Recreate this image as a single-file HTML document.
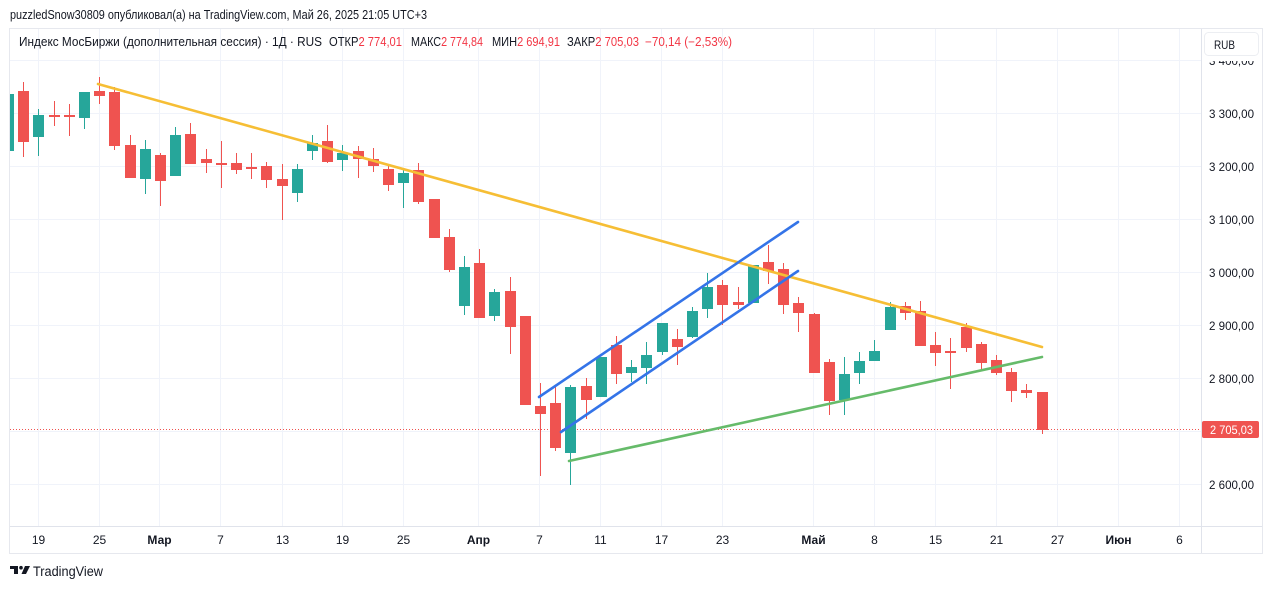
<!DOCTYPE html>
<html><head><meta charset="utf-8"><style>
html,body{margin:0;padding:0;background:#fff;}
svg{display:block;font-family:"Liberation Sans","DejaVu Sans",sans-serif;}
</style></head><body>
<svg width="1273" height="589" viewBox="0 0 1273 589" xmlns="http://www.w3.org/2000/svg">
<rect x="0" y="0" width="1273" height="589" fill="#fff"/>
<text x="10" y="19" font-size="13" fill="#131722" textLength="417" lengthAdjust="spacingAndGlyphs">puzzledSnow30809 опубликовал(а) на TradingView.com, Май 26, 2025 21:05 UTC+3</text>
<rect x="9.5" y="28.5" width="1253" height="525" fill="#fff" stroke="#e6e8ee"/>
<defs><clipPath id="pane"><rect x="10" y="29" width="1191" height="497"/></clipPath></defs>
<g stroke="#f0f3fa" stroke-width="1">
<line x1="10" x2="1201" y1="60.5" y2="60.5"/><line x1="10" x2="1201" y1="113.5" y2="113.5"/><line x1="10" x2="1201" y1="166.5" y2="166.5"/><line x1="10" x2="1201" y1="219.5" y2="219.5"/><line x1="10" x2="1201" y1="272.5" y2="272.5"/><line x1="10" x2="1201" y1="325.5" y2="325.5"/><line x1="10" x2="1201" y1="378.5" y2="378.5"/><line x1="10" x2="1201" y1="431.5" y2="431.5"/><line x1="10" x2="1201" y1="484.5" y2="484.5"/>
<line y1="29" y2="526" x1="38.5" x2="38.5"/><line y1="29" y2="526" x1="99.5" x2="99.5"/><line y1="29" y2="526" x1="159.5" x2="159.5"/><line y1="29" y2="526" x1="220.5" x2="220.5"/><line y1="29" y2="526" x1="282.5" x2="282.5"/><line y1="29" y2="526" x1="342.5" x2="342.5"/><line y1="29" y2="526" x1="403.5" x2="403.5"/><line y1="29" y2="526" x1="478.5" x2="478.5"/><line y1="29" y2="526" x1="539.5" x2="539.5"/><line y1="29" y2="526" x1="600.5" x2="600.5"/><line y1="29" y2="526" x1="661.5" x2="661.5"/><line y1="29" y2="526" x1="722.5" x2="722.5"/><line y1="29" y2="526" x1="813.5" x2="813.5"/><line y1="29" y2="526" x1="874.5" x2="874.5"/><line y1="29" y2="526" x1="935.5" x2="935.5"/><line y1="29" y2="526" x1="996.5" x2="996.5"/><line y1="29" y2="526" x1="1057.5" x2="1057.5"/><line y1="29" y2="526" x1="1118.5" x2="1118.5"/><line y1="29" y2="526" x1="1179.5" x2="1179.5"/>
</g>
<g clip-path="url(#pane)">
<line x1="10" x2="1201" y1="429.5" y2="429.5" stroke="#ef5350" stroke-width="1" stroke-dasharray="1 2"/>
<g fill="#ef5350">
<rect x="23" y="82" width="1" height="75"/><rect x="18" y="91" width="11" height="51"/>
<rect x="54" y="101" width="1" height="25"/><rect x="49" y="115" width="11" height="2"/>
<rect x="69" y="104" width="1" height="32"/><rect x="64" y="115" width="11" height="2"/>
<rect x="99" y="77" width="1" height="27"/><rect x="94" y="91" width="11" height="5"/>
<rect x="114" y="87" width="1" height="63"/><rect x="109" y="92" width="11" height="54"/>
<rect x="130" y="135" width="1" height="43"/><rect x="125" y="145" width="11" height="33"/>
<rect x="160" y="153" width="1" height="53"/><rect x="155" y="155" width="11" height="26"/>
<rect x="190" y="123" width="1" height="41"/><rect x="185" y="134" width="11" height="30"/>
<rect x="206" y="149" width="1" height="24"/><rect x="201" y="159" width="11" height="4"/>
<rect x="221" y="141" width="1" height="47"/><rect x="216" y="163" width="11" height="2"/>
<rect x="236" y="153" width="1" height="21"/><rect x="231" y="163" width="11" height="7"/>
<rect x="251" y="153" width="1" height="26"/><rect x="246" y="167" width="11" height="2"/>
<rect x="266" y="162" width="1" height="26"/><rect x="261" y="166" width="11" height="14"/>
<rect x="282" y="164" width="1" height="56"/><rect x="277" y="179" width="11" height="7"/>
<rect x="327" y="125" width="1" height="38"/><rect x="322" y="141" width="11" height="21"/>
<rect x="358" y="146" width="1" height="32"/><rect x="353" y="151" width="11" height="8"/>
<rect x="373" y="148" width="1" height="24"/><rect x="368" y="159" width="11" height="7"/>
<rect x="388" y="164" width="1" height="27"/><rect x="383" y="169" width="11" height="16"/>
<rect x="418" y="163" width="1" height="41"/><rect x="413" y="170" width="11" height="32"/>
<rect x="434" y="199" width="1" height="39"/><rect x="429" y="199" width="11" height="39"/>
<rect x="449" y="229" width="1" height="43"/><rect x="444" y="237" width="11" height="33"/>
<rect x="479" y="249" width="1" height="69"/><rect x="474" y="263" width="11" height="55"/>
<rect x="510" y="277" width="1" height="77"/><rect x="505" y="291" width="11" height="36"/>
<rect x="525" y="316" width="1" height="89"/><rect x="520" y="316" width="11" height="89"/>
<rect x="540" y="383" width="1" height="93"/><rect x="535" y="406" width="11" height="8"/>
<rect x="555" y="385" width="1" height="66"/><rect x="550" y="403" width="11" height="45"/>
<rect x="586" y="378" width="1" height="41"/><rect x="581" y="386" width="11" height="14"/>
<rect x="616" y="336" width="1" height="48"/><rect x="611" y="345" width="11" height="29"/>
<rect x="677" y="329" width="1" height="36"/><rect x="672" y="339" width="11" height="8"/>
<rect x="722" y="280" width="1" height="45"/><rect x="717" y="285" width="11" height="20"/>
<rect x="738" y="287" width="1" height="22"/><rect x="733" y="302" width="11" height="3"/>
<rect x="768" y="245" width="1" height="39"/><rect x="763" y="262" width="11" height="9"/>
<rect x="783" y="263" width="1" height="51"/><rect x="778" y="269" width="11" height="36"/>
<rect x="798" y="297" width="1" height="35"/><rect x="793" y="303" width="11" height="10"/>
<rect x="814" y="313" width="1" height="60"/><rect x="809" y="314" width="11" height="59"/>
<rect x="829" y="359" width="1" height="56"/><rect x="824" y="362" width="11" height="39"/>
<rect x="905" y="302" width="1" height="18"/><rect x="900" y="306" width="11" height="7"/>
<rect x="920" y="301" width="1" height="45"/><rect x="915" y="311" width="11" height="35"/>
<rect x="935" y="332" width="1" height="34"/><rect x="930" y="345" width="11" height="8"/>
<rect x="950" y="338" width="1" height="51"/><rect x="945" y="351" width="11" height="2"/>
<rect x="966" y="323" width="1" height="29"/><rect x="961" y="327" width="11" height="21"/>
<rect x="981" y="342" width="1" height="28"/><rect x="976" y="344" width="11" height="19"/>
<rect x="996" y="355" width="1" height="20"/><rect x="991" y="360" width="11" height="13"/>
<rect x="1011" y="368" width="1" height="34"/><rect x="1006" y="372" width="11" height="19"/>
<rect x="1026" y="384" width="1" height="14"/><rect x="1021" y="390" width="11" height="3"/>
<rect x="1042" y="392" width="1" height="42"/><rect x="1037" y="392" width="11" height="38"/>
</g>
<g fill="#26a69a">
<rect x="8" y="94" width="1" height="57"/><rect x="3" y="94" width="11" height="57"/>
<rect x="38" y="109" width="1" height="47"/><rect x="33" y="115" width="11" height="22"/>
<rect x="84" y="92" width="1" height="37"/><rect x="79" y="92" width="11" height="26"/>
<rect x="145" y="140" width="1" height="54"/><rect x="140" y="149" width="11" height="30"/>
<rect x="175" y="127" width="1" height="49"/><rect x="170" y="135" width="11" height="41"/>
<rect x="297" y="164" width="1" height="38"/><rect x="292" y="169" width="11" height="24"/>
<rect x="312" y="135" width="1" height="25"/><rect x="307" y="143" width="11" height="8"/>
<rect x="342" y="145" width="1" height="26"/><rect x="337" y="153" width="11" height="7"/>
<rect x="403" y="170" width="1" height="38"/><rect x="398" y="173" width="11" height="10"/>
<rect x="464" y="256" width="1" height="59"/><rect x="459" y="267" width="11" height="39"/>
<rect x="494" y="289" width="1" height="32"/><rect x="489" y="292" width="11" height="24"/>
<rect x="570" y="385" width="1" height="100"/><rect x="565" y="387" width="11" height="66"/>
<rect x="601" y="357" width="1" height="40"/><rect x="596" y="357" width="11" height="40"/>
<rect x="631" y="360" width="1" height="22"/><rect x="626" y="367" width="11" height="6"/>
<rect x="646" y="342" width="1" height="42"/><rect x="641" y="355" width="11" height="13"/>
<rect x="662" y="323" width="1" height="32"/><rect x="657" y="323" width="11" height="29"/>
<rect x="692" y="307" width="1" height="31"/><rect x="687" y="311" width="11" height="26"/>
<rect x="707" y="273" width="1" height="45"/><rect x="702" y="287" width="11" height="22"/>
<rect x="753" y="265" width="1" height="38"/><rect x="748" y="265" width="11" height="38"/>
<rect x="844" y="357" width="1" height="58"/><rect x="839" y="374" width="11" height="26"/>
<rect x="859" y="352" width="1" height="32"/><rect x="854" y="361" width="11" height="12"/>
<rect x="874" y="340" width="1" height="21"/><rect x="869" y="351" width="11" height="10"/>
<rect x="890" y="302" width="1" height="28"/><rect x="885" y="307" width="11" height="23"/>
</g>
<g stroke-linecap="round" fill="none">
<line x1="98" y1="84" x2="1042" y2="347" stroke="#f6be35" stroke-width="2.6"/>
<line x1="539" y1="397" x2="798" y2="222" stroke="#3474e8" stroke-width="2.6"/>
<line x1="561" y1="432" x2="798" y2="271" stroke="#3474e8" stroke-width="2.6"/>
<line x1="569" y1="461" x2="1042" y2="357" stroke="#66bb6a" stroke-width="2.6"/>
</g>
</g>
<line x1="10" x2="1262" y1="526.5" y2="526.5" stroke="#e0e3eb"/>
<line x1="1201.5" x2="1201.5" y1="29" y2="553" stroke="#e0e3eb"/>
<g font-size="12" fill="#131722">
<text x="1209" y="65" textLength="45" lengthAdjust="spacingAndGlyphs">3 400,00</text>
<text x="1209" y="118" textLength="45" lengthAdjust="spacingAndGlyphs">3 300,00</text>
<text x="1209" y="171" textLength="45" lengthAdjust="spacingAndGlyphs">3 200,00</text>
<text x="1209" y="224" textLength="45" lengthAdjust="spacingAndGlyphs">3 100,00</text>
<text x="1209" y="277" textLength="45" lengthAdjust="spacingAndGlyphs">3 000,00</text>
<text x="1209" y="330" textLength="45" lengthAdjust="spacingAndGlyphs">2 900,00</text>
<text x="1209" y="383" textLength="45" lengthAdjust="spacingAndGlyphs">2 800,00</text>
<text x="1209" y="489" textLength="45" lengthAdjust="spacingAndGlyphs">2 600,00</text>
</g>
<rect x="1202" y="29" width="60" height="32" fill="#fff"/>
<rect x="1204.5" y="32.5" width="54" height="23" rx="4" fill="#fff" stroke="#eceef2"/>
<text x="1214" y="49" font-size="12" fill="#131722" textLength="21" lengthAdjust="spacingAndGlyphs">RUB</text>
<rect x="1202" y="421" width="57" height="17" rx="2" fill="#ef5350"/>
<text x="1210" y="434" font-size="12" fill="#fff" textLength="43" lengthAdjust="spacingAndGlyphs">2 705,03</text>
<g font-size="12" fill="#131722" text-anchor="middle">
<text x="38.5" y="544">19</text><text x="99.5" y="544">25</text><text x="159.5" y="544" font-weight="bold">Мар</text><text x="220.5" y="544">7</text><text x="282.5" y="544">13</text><text x="342.5" y="544">19</text><text x="403.5" y="544">25</text><text x="478.5" y="544" font-weight="bold">Апр</text><text x="539.5" y="544">7</text><text x="600.5" y="544">11</text><text x="661.5" y="544">17</text><text x="722.5" y="544">23</text><text x="813.5" y="544" font-weight="bold">Май</text><text x="874.5" y="544">8</text><text x="935.5" y="544">15</text><text x="996.5" y="544">21</text><text x="1057.5" y="544">27</text><text x="1118.5" y="544" font-weight="bold">Июн</text><text x="1179.5" y="544">6</text>
</g>
<g font-size="12.5" fill="#131722">
<text x="19" y="46" textLength="303" lengthAdjust="spacingAndGlyphs">Индекс МосБиржи (дополнительная сессия) · 1Д · RUS</text>
<text x="329" y="46" textLength="73" lengthAdjust="spacingAndGlyphs">ОТКР<tspan fill="#f23645">2 774,01</tspan></text>
<text x="411" y="46" textLength="72" lengthAdjust="spacingAndGlyphs">МАКС<tspan fill="#f23645">2 774,84</tspan></text>
<text x="492" y="46" textLength="68" lengthAdjust="spacingAndGlyphs">МИН<tspan fill="#f23645">2 694,91</tspan></text>
<text x="567" y="46" textLength="72" lengthAdjust="spacingAndGlyphs">ЗАКР<tspan fill="#f23645">2 705,03</tspan></text>
<text x="645" y="46" textLength="87" lengthAdjust="spacingAndGlyphs" fill="#f23645">−70,14 (−2,53%)</text>
</g>
<g fill="#131722">
<rect x="10" y="566" width="8" height="3"/><rect x="14" y="566" width="4" height="8"/>
<circle cx="21" cy="567.7" r="1.8"/>
<polygon points="25,566 30,566 26,574 21.5,574"/>
</g>
<text x="33" y="576" font-size="13.5" fill="#131722" textLength="70" lengthAdjust="spacingAndGlyphs">TradingView</text>
</svg>
</body></html>
